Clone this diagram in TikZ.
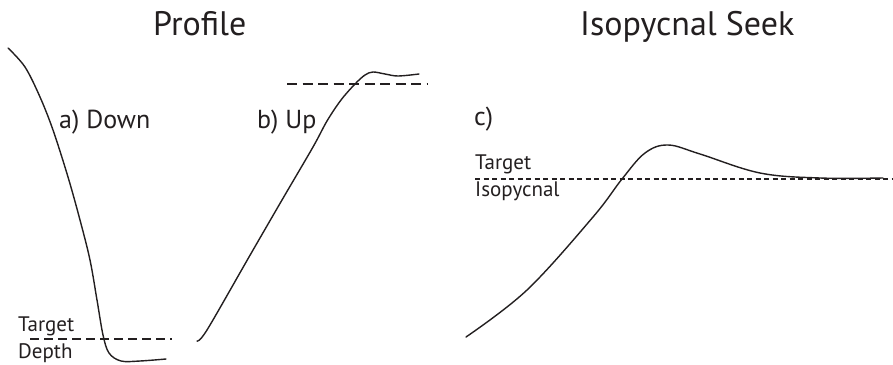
\documentclass[tikz,border=0pt]{standalone}
\usepackage{fontspec}
\setmainfont{PT Sans}
\definecolor{ink}{HTML}{231F20}
\begin{document}
\begin{tikzpicture}[x=1pt,y=-1pt,
  curve/.style={draw=ink,line width=1.4pt,line cap=round,line join=round},
  dashline/.style={draw=ink,line width=1.1pt,dash pattern=on 9pt off 5pt},
  title/.style={anchor=base west,inner sep=0pt,text=ink,font=\fontsize{34}{36}\selectfont},
  lab/.style={anchor=base west,inner sep=0pt,text=ink,font=\fontsize{26}{28}\selectfont},
  small/.style={anchor=base west,inner sep=0pt,text=ink,font=\fontsize{21}{22}\selectfont}]
\useasboundingbox[fill=white] (0,0) rectangle (893,364);
% titles
\node[title] (tprofile) at (153,35) {Profile};
\node[title] (tiso) at (580,35) {Isopycnal Seek};
% labels
\node[lab] (la) at (59,128) {a) Down};
\node[lab] (lb) at (257,128) {b) Up};
\node[lab] (lc) at (474,125) {c)};
\node[small] (ltd1) at (18,331) {Target};
\node[small] (ltd2) at (18,358) {Depth};
\node[small] (lti1) at (475,169) {Target};
\node[small] (lti2) at (475,196) {Isopycnal};
% dashed reference lines
\coordinate (d1) at (30,339); \coordinate (d2) at (172,339);
\coordinate (u1) at (287,84); \coordinate (u2) at (427,84);
\coordinate (i1) at (475,179); \coordinate (i2) at (893,179);
\draw[dashline] (d1) -- (d2);
\draw[dashline,dash pattern=on 10pt off 5.5pt] (u1) -- (u2);
\draw[dashline,dash pattern=on 5pt off 3.5pt] (i1) -- (i2);
% curve a) Down
\draw[curve] plot[smooth,tension=0.55] coordinates {(8,48) (25,67) (40,97) (53,130) (68,177) (80,220) (90,260) (97,300) (103,335) (109,353) (121,361) (140,361) (166,359)};
% curve b) Up
\draw[curve] plot[smooth,tension=0.55] coordinates {(197,341) (207,330) (249,257) (282,200) (313,147) (327,121) (341,100) (355,84) (365,75) (373,72) (385,74) (398,76) (419,74)};
% curve c) Isopycnal seek
\draw[curve] plot[smooth,tension=0.6] coordinates {(466,337) (527,290) (593,217) (622,179) (645,153) (668,145) (700,154) (760,173) (820,178) (883,178)};
\end{tikzpicture}
\end{document}
